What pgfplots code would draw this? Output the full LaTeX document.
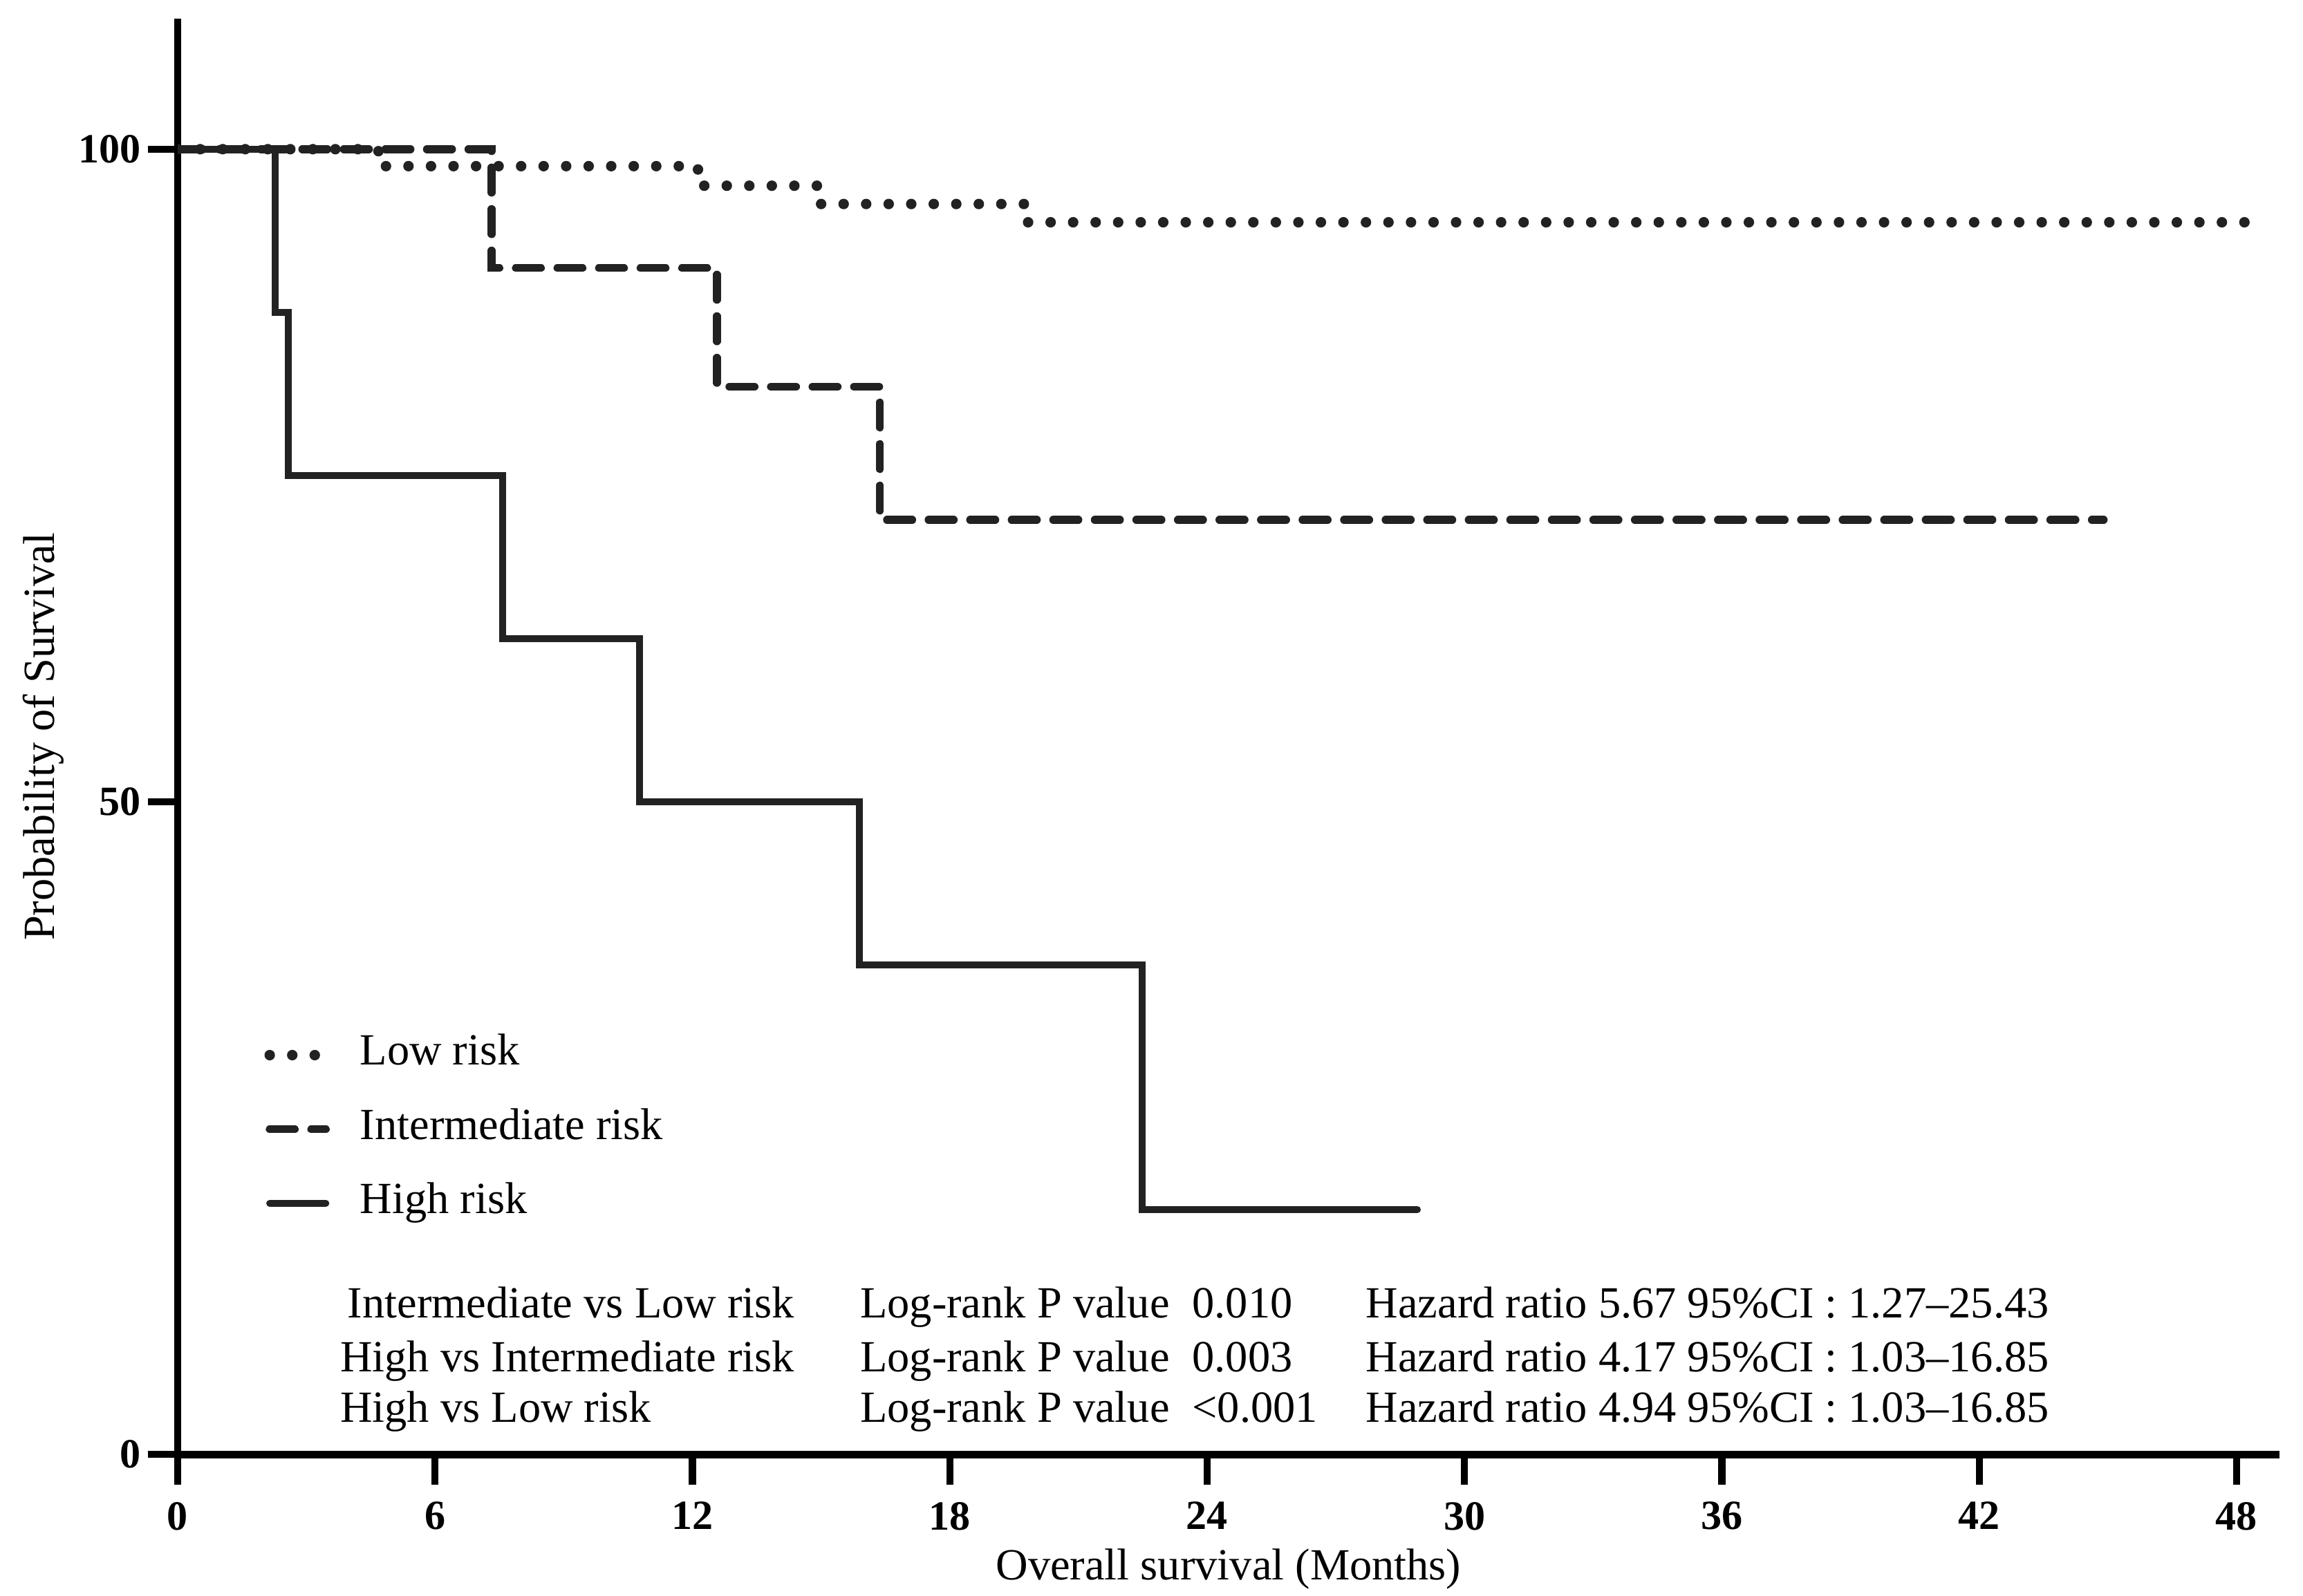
\documentclass[border=0pt]{standalone}
\usepackage{fontspec}
\setmainfont{Liberation Serif}
\usepackage{pgfplots}
\pgfplotsset{compat=1.18}
\usetikzlibrary{calc}
\definecolor{curve}{HTML}{222222}
\begin{document}
\begin{tikzpicture}
\begin{axis}[
  scale only axis, width=419.9pt, height=286.9pt,
  xmin=0, xmax=49.0, ymin=0, ymax=110,
  axis lines=left,
  axis line style={-, line width=1.5pt, black},
  xtick={0,6,...,48}, ytick={0,50,100},
  tick align=outside, major tick length=6pt,
  tick style={line width=1.4pt, black},
  /pgf/number format/assume math mode=true,
  ticklabel style={font=\fontsize{8.3}{10}\selectfont\bfseries},
  yticklabel style={inner sep=1.2pt},
  xlabel={Overall survival (Months)},
  ylabel={Probability of Survival},
  label style={font=\fontsize{8.9}{10.7}\selectfont},
  xlabel style={at={(axis description cs:0.5,-0.0871)}, anchor=base},
  ylabel style={at={(axis description cs:-0.064,0.5)}, anchor=center},
  legend style={draw=none, fill=none, inner sep=0pt,
    at={(axis cs:2.0,32.2)}, anchor=north west,
    font=\fontsize{8.9}{10.7}\selectfont, row sep=6.8pt, column sep=5.8pt,
    nodes={inner sep=0pt, text height=6pt, text depth=2pt}},
  legend cell align=left,
  legend image code/.code={\draw[#1] (0pt,0pt) -- (11.2pt,0pt);},
]
\addplot[const plot, color=curve, line width=2.1pt, line cap=round,
  dash pattern=on 0pt off 4.5pt] coordinates {
  (0,100) (4.68,98.7) (12.13,97.2) (14.96,95.8) (19.76,94.4) (48.6,94.4)};
\addlegendentry{Low risk}
\addplot[const plot, color=curve, line width=1.6pt, line cap=round,
  dash pattern=on 5pt off 3.3pt] coordinates {
  (0,100) (7.32,90.9) (12.57,81.8) (16.37,71.6) (44.9,71.6)};
\addlegendentry{Intermediate risk}
\addplot[const plot, color=curve, line width=1.4pt, line cap=round] coordinates {
  (0,100) (2.27,87.5) (2.58,75) (7.57,62.5) (10.77,50) (15.89,37.5) (22.48,18.75) (28.9,18.75)};
\addlegendentry{High risk}
\coordinate (SW) at (rel axis cs:0,0);
\coordinate (NE) at (rel axis cs:1,1);
\begin{scope}[font=\fontsize{8.9}{10.7}\selectfont]
\node[anchor=base west, inner sep=0pt] at (axis cs:3.94,10.48) {Intermediate vs Low risk};
\node[anchor=base west, inner sep=0pt] at (axis cs:3.77,6.35) {High vs Intermediate risk};
\node[anchor=base west, inner sep=0pt] at (axis cs:3.77,2.49) {High vs Low risk};
\node[anchor=base west, inner sep=0pt] at (axis cs:15.89,10.48) {Log-rank P value};
\node[anchor=base west, inner sep=0pt] at (axis cs:15.89,6.35) {Log-rank P value};
\node[anchor=base west, inner sep=0pt] at (axis cs:15.89,2.49) {Log-rank P value};
\node[anchor=base west, inner sep=0pt] at (axis cs:23.63,10.48) {0.010};
\node[anchor=base west, inner sep=0pt] at (axis cs:23.63,6.35) {0.003};
\node[anchor=base west, inner sep=0pt] at (axis cs:23.63,2.49) {<0.001};
\node[anchor=base west, inner sep=0pt] at (axis cs:27.68,10.48) {Hazard ratio 5.67 95\%CI : 1.27–25.43};
\node[anchor=base west, inner sep=0pt] at (axis cs:27.68,6.35) {Hazard ratio 4.17 95\%CI : 1.03–16.85};
\node[anchor=base west, inner sep=0pt] at (axis cs:27.68,2.49) {Hazard ratio 4.94 95\%CI : 1.03–16.85};
\end{scope}
\end{axis}
\pgfresetboundingbox
\path[use as bounding box] ($(SW)+(-35.5pt,-28.3pt)$) rectangle ($(NE)+(4.7pt,3.73pt)$);
\end{tikzpicture}
\end{document}
